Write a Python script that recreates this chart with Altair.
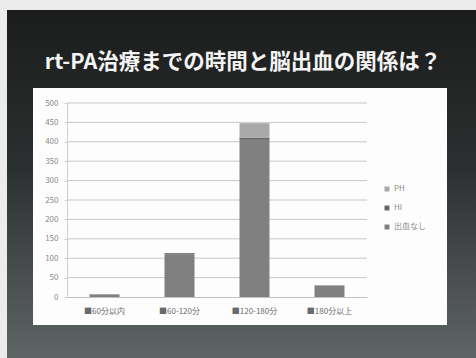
import altair as alt
import pandas as pd

categories = ["60分以内", "60-120分", "120-180分", "180分以上"]
x_labels = ["■60分以内", "■60-120分", "■120-180分", "■180分以上"]
series = ["PH", "HI", "出血なし"]
no_bleed = [6, 110, 405, 29]
hi = [1, 3, 5, 1]
ph = [0, 0, 38, 0]
y_ticks = [0, 50, 100, 150, 200, 250, 300, 350, 400, 450, 500]
title_text = "rt-PA治療までの時間と脳出血の関係は？"
colors = ["#a9a9a9", "#686868", "#808080"]

rows = []
for i, c in enumerate(categories):
    for s, vals, order in (("出血なし", no_bleed, 0), ("HI", hi, 1), ("PH", ph, 2)):
        rows.append({"cat": c, "label": x_labels[i], "series": s, "value": vals[i], "ord": order})
df = pd.DataFrame(rows)
grid_df = pd.DataFrame({"v": y_ticks[1:]})
one = pd.DataFrame({"k": [0]})

FONT = "Noto Sans CJK JP"

yaxis = alt.Axis(title=None, values=y_ticks, grid=False, labelFont=FONT,
                 labelFontSize=8, labelColor="#8a8a8a", labelPadding=6,
                 labelOverlap=False, tickSize=3, tickColor="#cfcfcf",
                 domainColor="#cfcfcf", zindex=1)

bg = alt.Chart(one).mark_rect(
    color=alt.LinearGradient(
        gradient="linear",
        stops=[alt.GradientStop(color="#1b1d1d", offset=0),
               alt.GradientStop(color="#2c2f2f", offset=0.45),
               alt.GradientStop(color="#5f6464", offset=1)],
        x1=0, x2=0, y1=0, y2=1),
).encode(x=alt.value(-60), x2=alt.value(409), y=alt.value(-93), y2=alt.value(255))

panel = alt.Chart(one).mark_rect(color="#fdfdfd").encode(
    x=alt.value(-34), x2=alt.value(380), y=alt.value(-15), y2=alt.value(222))

title = alt.Chart(one).mark_text(
    text=title_text, font=FONT, fontSize=21.5, fontWeight="bold", color="#f4f4f4",
    align="center", baseline="middle",
).encode(x=alt.value(176), y=alt.value(-40))

yscale = alt.Scale(domain=[0, 500], nice=False)

grid = alt.Chart(grid_df).mark_rule(color="#c8c8c8", strokeWidth=1).encode(
    y=alt.Y("v:Q", scale=yscale, axis=yaxis), x=alt.value(0), x2=alt.value(300))

bars = alt.Chart(df).mark_bar().encode(
    x=alt.X("label:N", sort=x_labels,
            scale=alt.Scale(paddingInner=0.6, paddingOuter=0.3),
            axis=alt.Axis(title=None, labelAngle=0, labelFont=FONT, labelFontSize=8,
                          labelColor="#6a6a6a", labelPadding=10, ticks=False,
                          domainColor="#c0c0c0", zindex=1)),
    y=alt.Y("value:Q", stack="zero", scale=yscale, axis=yaxis),
    color=alt.Color("series:N", scale=alt.Scale(domain=series, range=colors),
                    legend=alt.Legend(title=None, orient="none", legendX=316, legendY=82,
                                      symbolType="square", symbolSize=25,
                                      symbolStrokeWidth=0, labelFont=FONT,
                                      labelFontSize=8, labelColor="#8a8a8a",
                                      rowPadding=11, labelOffset=3)),
    order=alt.Order("ord:Q", sort="ascending"),
)

chart = alt.layer(bg, panel, title, grid, bars).properties(
    width=300, height=194,
    padding={"left": 67, "top": 103, "right": 109, "bottom": 61},
    autosize=alt.AutoSizeParams(type="none"),
    background="#ececec",
).configure_view(stroke=None)

chart.save("out.html", embed_options={"renderer": "svg", "actions": False})
